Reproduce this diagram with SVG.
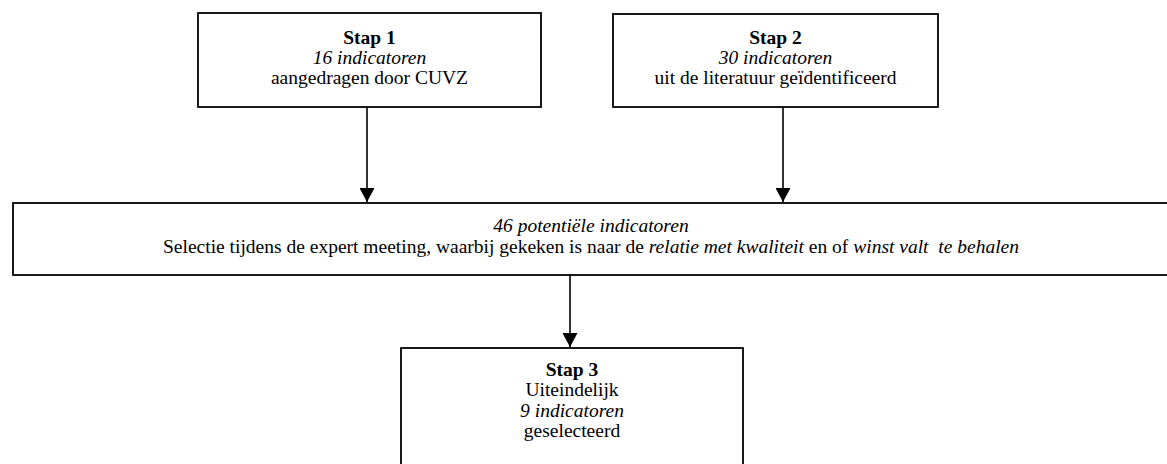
<svg xmlns="http://www.w3.org/2000/svg" width="1167" height="464" viewBox="0 0 1167 464">
<style>
.box{fill:#fff;stroke:#000;stroke-width:1.8}
.t{font-family:"Liberation Serif","Times New Roman",serif;font-size:19.5px;fill:#000;text-anchor:middle;white-space:pre}
.b{font-weight:bold}
.i{font-style:italic}
.c{stroke:#000;stroke-width:1.6;fill:none}
</style>
<defs>
<marker id="ah" markerUnits="userSpaceOnUse" markerWidth="15" markerHeight="15" refX="14" refY="7.5" orient="auto" viewBox="0 0 15 15">
<path d="M0,0 L14,7.5 L0,15 Z" fill="#000"/>
</marker>
</defs>
<g id="node-stap1">
<rect class="box" x="198" y="13" width="343" height="94"/>
<text class="t b" x="369.5" y="44">Stap 1</text>
<text class="t i" x="369.5" y="64">16 indicatoren</text>
<text class="t" x="369.5" y="84">aangedragen door CUVZ</text>
</g>
<g id="node-stap2">
<rect class="box" x="613" y="14" width="325" height="93"/>
<text class="t b" x="775.5" y="44">Stap 2</text>
<text class="t i" x="775.5" y="64">30 indicatoren</text>
<text class="t" x="775.5" y="84">uit de literatuur geïdentificeerd</text>
</g>
<g id="node-selectie">
<rect class="box" x="13" y="203" width="1160" height="72"/>
<text class="t i" x="591" y="232">46 potentiële indicatoren</text>
<text class="t" x="591" y="253" xml:space="preserve">Selectie tijdens de expert meeting, waarbij gekeken is naar de <tspan class="i">relatie met kwaliteit</tspan> en of <tspan class="i">winst valt  te behalen</tspan></text>
</g>
<g id="node-stap3">
<rect class="box" x="401" y="348" width="342" height="130"/>
<text class="t b" x="572" y="376">Stap 3</text>
<text class="t" x="572" y="396">Uiteindelijk</text>
<text class="t i" x="572" y="417">9 indicatoren</text>
<text class="t" x="572" y="437">geselecteerd</text>
</g>
<g id="connectors">
<line class="c" x1="367" y1="107" x2="367" y2="202" marker-end="url(#ah)"/>
<line class="c" x1="783" y1="107" x2="783" y2="202" marker-end="url(#ah)"/>
<line class="c" x1="570" y1="275" x2="570" y2="347" marker-end="url(#ah)"/>
</g>
</svg>
